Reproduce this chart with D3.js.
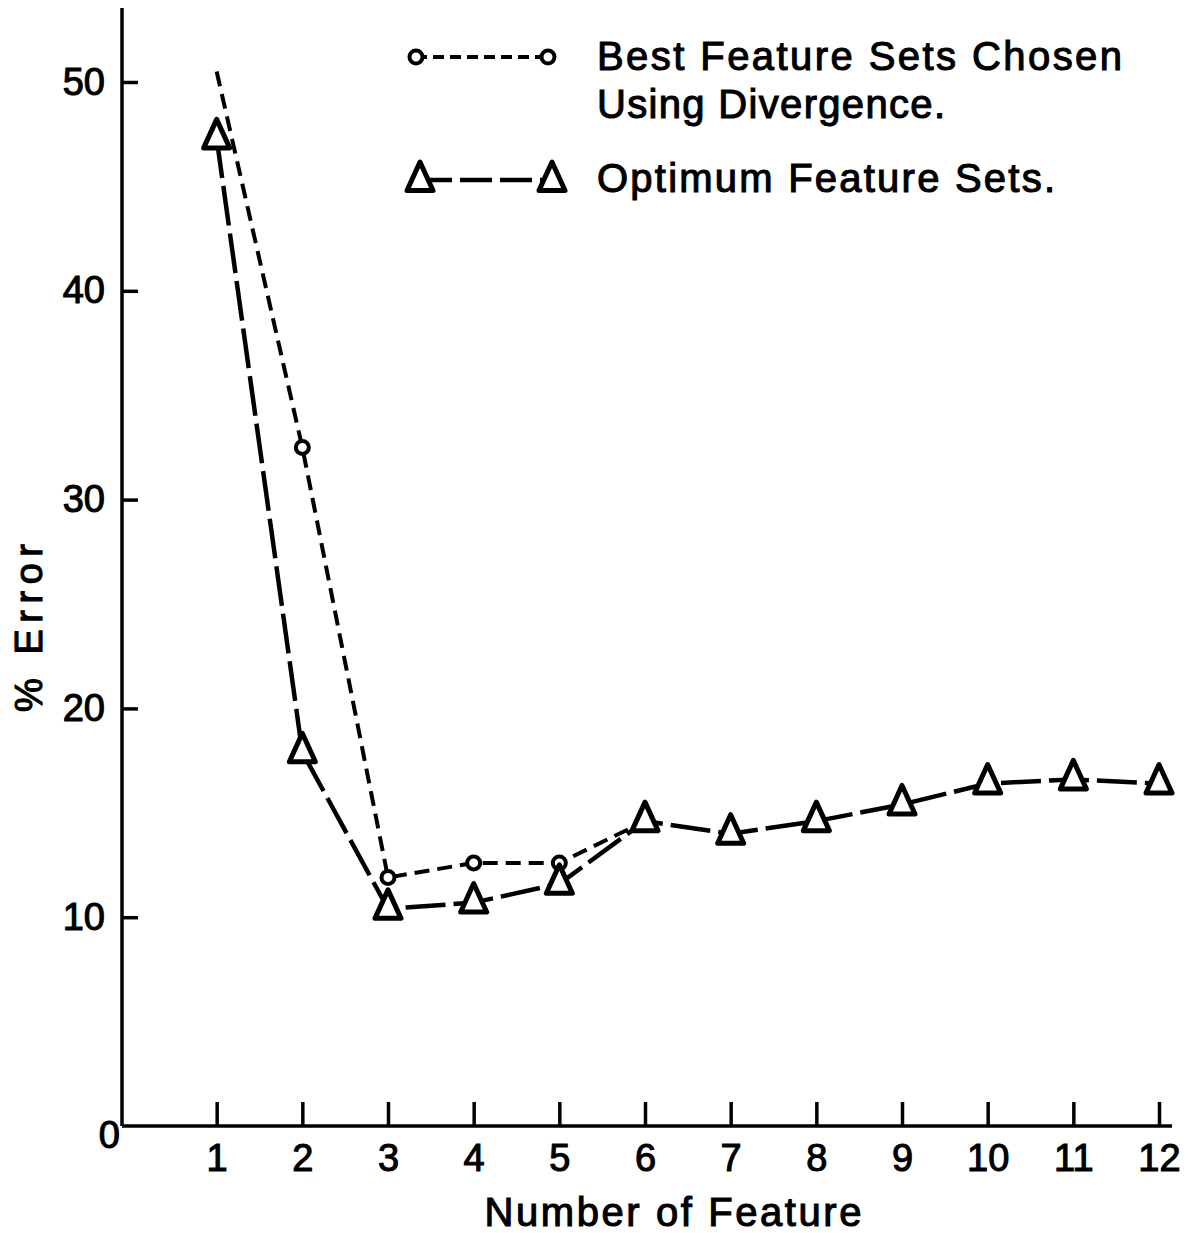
<!DOCTYPE html>
<html>
<head>
<meta charset="utf-8">
<script src="https://cdn.jsdelivr.net/npm/d3@7"></script>
<style>
	body { margin: 0; background: #fff; }
	svg { display: block; }
	text { font-family: "Liberation Sans", Arial, sans-serif; fill: #000; stroke: #000; stroke-width: 1.1px; }
</style>
</head>
<body>
<svg id="chart" width="1202" height="1233"></svg>
<script>
'use strict';

// Data
var features = [1, 2, 3, 4, 5, 6, 7, 8, 9, 10, 11, 12];
var optimumError = [47.3, 17.9, 10.4, 10.7, 11.6, 14.6, 14.0, 14.6, 15.4, 16.4, 16.6, 16.4];

// divergence curve only runs from 1 to 6, then joins the optimum curve
var divFeatures = [1, 2, 3, 4, 5, 6];
var divergenceError = [50.5, 32.5, 11.9, 12.6, 12.6, 14.6];
var divMarked = [false, true, true, true, true, false];

var xTicks = [1, 2, 3, 4, 5, 6, 7, 8, 9, 10, 11, 12];
var yTicks = [10, 20, 30, 40, 50];

var legendLabels = [
	["Best Feature Sets Chosen", "Using Divergence."],
	["Optimum Feature Sets."]
];

var svg = d3.select("#chart");

var x = d3.scaleLinear().domain([0, 12]).range([131, 1159]);
var y = d3.scaleLinear().domain([0, 50]).range([1126, 82]);

var axisX = 122, axisY = 1126;

// triangle marker, centred roughly on its centroid
function triangle(g) {
	g.append("path")
		.attr("d", "M0,-19L13,9.5L-13,9.5Z")
		.attr("fill", "#fff")
		.attr("stroke", "#000")
		.attr("stroke-width", 5)
		.attr("stroke-linejoin", "round");
}

function circle(g) {
	g.append("circle")
		.attr("r", 6.5)
		.attr("fill", "#fff")
		.attr("stroke", "#000")
		.attr("stroke-width", 4);
}

// axes lines
svg.append("line")
	.attr("x1", axisX).attr("x2", axisX)
	.attr("y1", 8).attr("y2", axisY)
	.attr("stroke", "#000").attr("stroke-width", 3.5);

svg.append("line")
	.attr("x1", axisX).attr("x2", 1172)
	.attr("y1", axisY).attr("y2", axisY)
	.attr("stroke", "#000").attr("stroke-width", 3.5);

// x axis: ticks point up into the plot
var gx = svg.append("g")
	.attr("transform", "translate(0," + axisY + ")")
	.call(d3.axisBottom(x).tickValues(xTicks).tickSizeInner(-24).tickSizeOuter(0).tickPadding(18));

// y axis: ticks point right into the plot
var gy = svg.append("g")
	.attr("transform", "translate(" + axisX + ",0)")
	.call(d3.axisLeft(y).tickValues(yTicks).tickSizeInner(-16).tickSizeOuter(0).tickPadding(17));

[gx, gy].forEach(function (g) {
	g.select(".domain").remove();
	g.selectAll(".tick line").attr("stroke", "#000").attr("stroke-width", 3.5);
	g.selectAll(".tick text")
		.style("font-family", "'Liberation Sans', Arial, sans-serif")
		.style("font-size", "38px")
		.attr("fill", "#000");
});
gx.attr("font-size", null);
gy.attr("font-size", null);

// origin label sits low-left of the corner
svg.append("text")
	.attr("x", axisX - 2)
	.attr("y", y(0) + 22)
	.attr("text-anchor", "end")
	.style("font-size", "38px")
	.text("0");

// axis titles
svg.append("text")
	.attr("x", 673)
	.attr("y", 1226)
	.attr("text-anchor", "middle")
	.attr("textLength", 377)
	.attr("lengthAdjust", "spacing")
	.style("font-size", "40px")
	.text("Number of Feature");

svg.append("text")
	.attr("transform", "translate(42,628) rotate(-90)")
	.attr("text-anchor", "middle")
	.attr("textLength", 168)
	.attr("lengthAdjust", "spacing")
	.style("font-size", "38px")
	.text("% Error");

// series lines
var line = d3.line()
	.x(function (d) { return x(d[0]); })
	.y(function (d) { return y(d[1]); });

var divData = divFeatures.map(function (f, i) { return [f, divergenceError[i]]; });
var optData = features.map(function (f, i) { return [f, optimumError[i]]; });

svg.append("path")
	.datum(divData)
	.attr("d", line)
	.attr("fill", "none")
	.attr("stroke", "#000")
	.attr("stroke-width", 4)
	.attr("stroke-dasharray", "15,8");

svg.append("path")
	.datum(optData)
	.attr("d", line)
	.attr("fill", "none")
	.attr("stroke", "#000")
	.attr("stroke-width", 4.5)
	.attr("stroke-dasharray", "40,8");

// markers
svg.append("g").selectAll("g")
	.data(divData.filter(function (d, i) { return divMarked[i]; }))
	.enter().append("g")
		.attr("transform", function (d) { return "translate(" + x(d[0]) + "," + y(d[1]) + ")"; })
		.each(function () { circle(d3.select(this)); });

svg.append("g").selectAll("g")
	.data(optData)
	.enter().append("g")
		.attr("transform", function (d) { return "translate(" + x(d[0]) + "," + y(d[1]) + ")"; })
		.each(function () { triangle(d3.select(this)); });

// legend
var leg = svg.append("g");

leg.append("line")
	.attr("x1", 416).attr("x2", 548).attr("y1", 57).attr("y2", 57)
	.attr("stroke", "#000").attr("stroke-width", 4)
	.attr("stroke-dasharray", "11,6");
[416, 548].forEach(function (px) {
	circle(leg.append("g").attr("transform", "translate(" + px + ",57)"));
});

leg.append("line")
	.attr("x1", 420).attr("x2", 552).attr("y1", 180).attr("y2", 180)
	.attr("stroke", "#000").attr("stroke-width", 4.5)
	.attr("stroke-dasharray", "32,8");
[420, 552].forEach(function (px) {
	triangle(leg.append("g").attr("transform", "translate(" + px + ",181)"));
});

var legendRows = [
	{ text: legendLabels[0][0], y: 70, w: 525 },
	{ text: legendLabels[0][1], y: 118, w: 348 },
	{ text: legendLabels[1][0], y: 192, w: 458 }
];

leg.selectAll("text.lab")
	.data(legendRows)
	.enter().append("text")
		.attr("class", "lab")
		.attr("x", 597)
		.attr("y", function (d) { return d.y; })
		.attr("textLength", function (d) { return d.w; })
		.attr("lengthAdjust", "spacing")
		.style("font-size", "40px")
		.text(function (d) { return d.text; });
</script>
</body>
</html>
